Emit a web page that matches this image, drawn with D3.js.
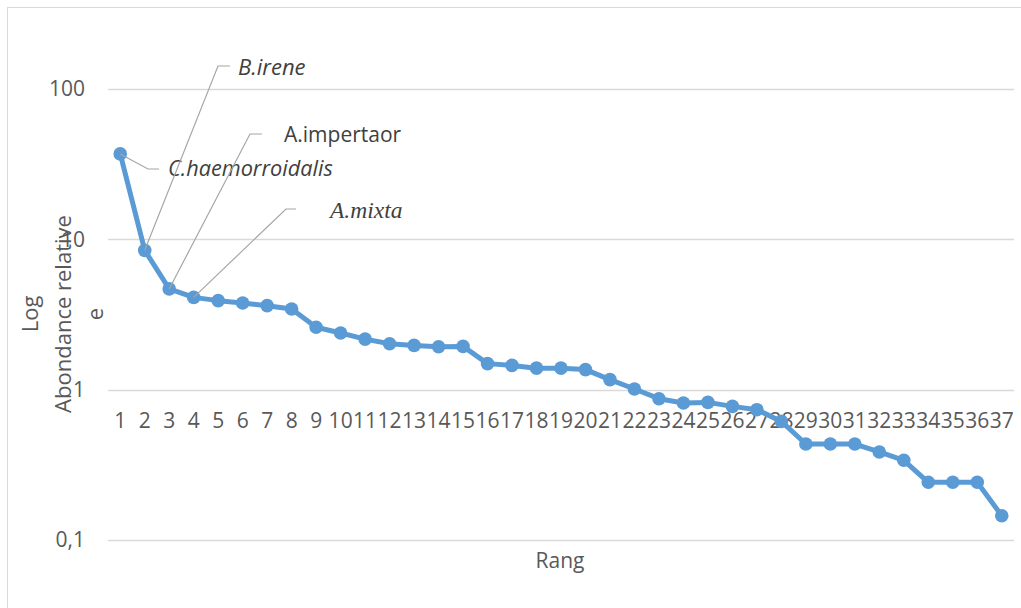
<!DOCTYPE html>
<html>
<head>
<meta charset="utf-8">
<script src="https://cdn.jsdelivr.net/npm/d3@7"></script>
<style>
  html, body { margin: 0; padding: 0; background: #fff; }
  svg { display: block; }
  text { font-family: "Open Sans", sans-serif; }
</style>
</head>
<body>
<svg id="chart" width="1021" height="608"></svg>
<script>
// ---- data ----
const ranks = d3.range(1, 38).map(String);
const abundance = [
  37.0, 8.45, 4.68, 4.11, 3.91, 3.77, 3.62, 3.44, 2.60, 2.38,
  2.17, 2.02, 1.97, 1.93, 1.94, 1.49, 1.45, 1.39, 1.39, 1.36,
  1.166, 1.01, 0.871, 0.815, 0.823, 0.774, 0.736, 0.615, 0.435, 0.435,
  0.435, 0.385, 0.339, 0.242, 0.242, 0.242, 0.145
];
const yTickValues = [0.1, 1, 10, 100];
const yTickLabels = ["0,1", "1", "10", "100"];
const annotationNames = ["C.haemorroidalis", "B.irene", "A.impertaor", "A.mixta"];
const annotationRanks = ["1", "2", "3", "4"];
const yTitleLines = ["Log", "Abondance relative", "e"];
const xTitle = "Rang";

// ---- layout ----
const svg = d3.select("#chart");
const plot = { left: 108, right: 1014, top: 89, bottom: 540 };

const x = d3.scaleBand().domain(ranks).range([plot.left, plot.right]);
const y = d3.scaleLog().domain([0.1, 100]).range([plot.bottom, plot.top]);
const cx = r => x(r) + x.bandwidth() / 2;

// chart border (only top & left visible in the reference)
svg.append("rect")
  .attr("x", 7.5).attr("y", 7.5)
  .attr("width", 1100).attr("height", 700)
  .attr("fill", "none").attr("stroke", "#d9d9d9").attr("stroke-width", 1);

// gridlines
svg.append("g")
  .selectAll("line")
  .data(yTickValues)
  .join("line")
  .attr("x1", plot.left).attr("x2", plot.right)
  .attr("y1", d => Math.round(y(d)) + 0.5).attr("y2", d => Math.round(y(d)) + 0.5)
  .attr("stroke", "#d9d9d9").attr("stroke-width", 1.5);

// y axis labels
const yAxis = d3.axisLeft(y)
  .tickValues(yTickValues)
  .tickFormat((d, i) => yTickLabels[i])
  .tickSize(0).tickPadding(0);
const gy = svg.append("g").attr("transform", `translate(${plot.left - 23},0)`).call(yAxis);
gy.select(".domain").remove();
gy.selectAll("text")
  .attr("fill", "#595959")
  .style("font-size", "21px")
  .style("font-family", "'Open Sans', sans-serif");

// x axis labels (axis crosses at 1)
const xAxis = d3.axisBottom(x).tickSize(0).tickPadding(0);
const gx = svg.append("g").attr("transform", `translate(0,${y(1) + 23})`).call(xAxis);
gx.select(".domain").remove();
gx.selectAll("text")
  .attr("fill", "#595959")
  .style("font-size", "21px")
  .style("font-family", "'Open Sans', sans-serif");

// axis titles
svg.append("text")
  .attr("x", 560)
  .attr("y", 568)
  .attr("text-anchor", "middle")
  .attr("fill", "#595959")
  .style("font-size", "21px")
  .text(xTitle);

const yt = svg.append("text")
  .attr("transform", "translate(0,314) rotate(-90)")
  .attr("text-anchor", "middle")
  .attr("fill", "#595959")
  .style("font-size", "22px");
yTitleLines.forEach((t, i) => {
  yt.append("tspan").attr("x", 0).attr("y", 38 + i * 32.5).text(t);
});

// series line
const line = d3.line()
  .x((d, i) => cx(ranks[i]))
  .y(d => y(d));
svg.append("path")
  .datum(abundance)
  .attr("d", line)
  .attr("fill", "none")
  .attr("stroke", "#5b9bd5")
  .attr("stroke-width", 5)
  .attr("stroke-linejoin", "round");

svg.append("g")
  .selectAll("circle")
  .data(abundance)
  .join("circle")
  .attr("cx", (d, i) => cx(ranks[i]))
  .attr("cy", d => y(d))
  .attr("r", 6.8)
  .attr("fill", "#5b9bd5");

// annotations: leader lines + labels (label placement is layout)
const labelLayout = {
  "C.haemorroidalis": { elbow: [148, 169], end: [159, 169], tx: 168, ty: 176, style: "italic", family: "'Open Sans', sans-serif", size: 21.7 },
  "B.irene":          { elbow: [218, 66],  end: [230, 66],  tx: 238, ty: 75,  style: "italic", family: "'Open Sans', sans-serif", size: 22 },
  "A.impertaor":      { elbow: [250, 134], end: [262, 134], tx: 284, ty: 142, style: "normal", family: "'Open Sans', sans-serif", size: 21 },
  "A.mixta":          { elbow: [286, 209], end: [296, 209], tx: 330, ty: 218, style: "italic", family: "'Liberation Serif', 'Times New Roman', serif", size: 23.5 }
};

const ann = svg.append("g");
annotationNames.forEach((name, i) => {
  const r = annotationRanks[i];
  const idx = ranks.indexOf(r);
  const L = labelLayout[name];
  ann.append("polyline")
    .attr("points", [[cx(r), y(abundance[idx])], L.elbow, L.end].map(p => p.join(",")).join(" "))
    .attr("fill", "none")
    .attr("stroke", "#a6a6a6")
    .attr("stroke-width", 1.2);
  ann.append("text")
    .attr("x", L.tx).attr("y", L.ty)
    .attr("fill", "#404040")
    .style("font-style", L.style)
    .style("font-family", L.family)
    .style("font-size", L.size + "px")
    .text(name);
});
</script>
</body>
</html>
